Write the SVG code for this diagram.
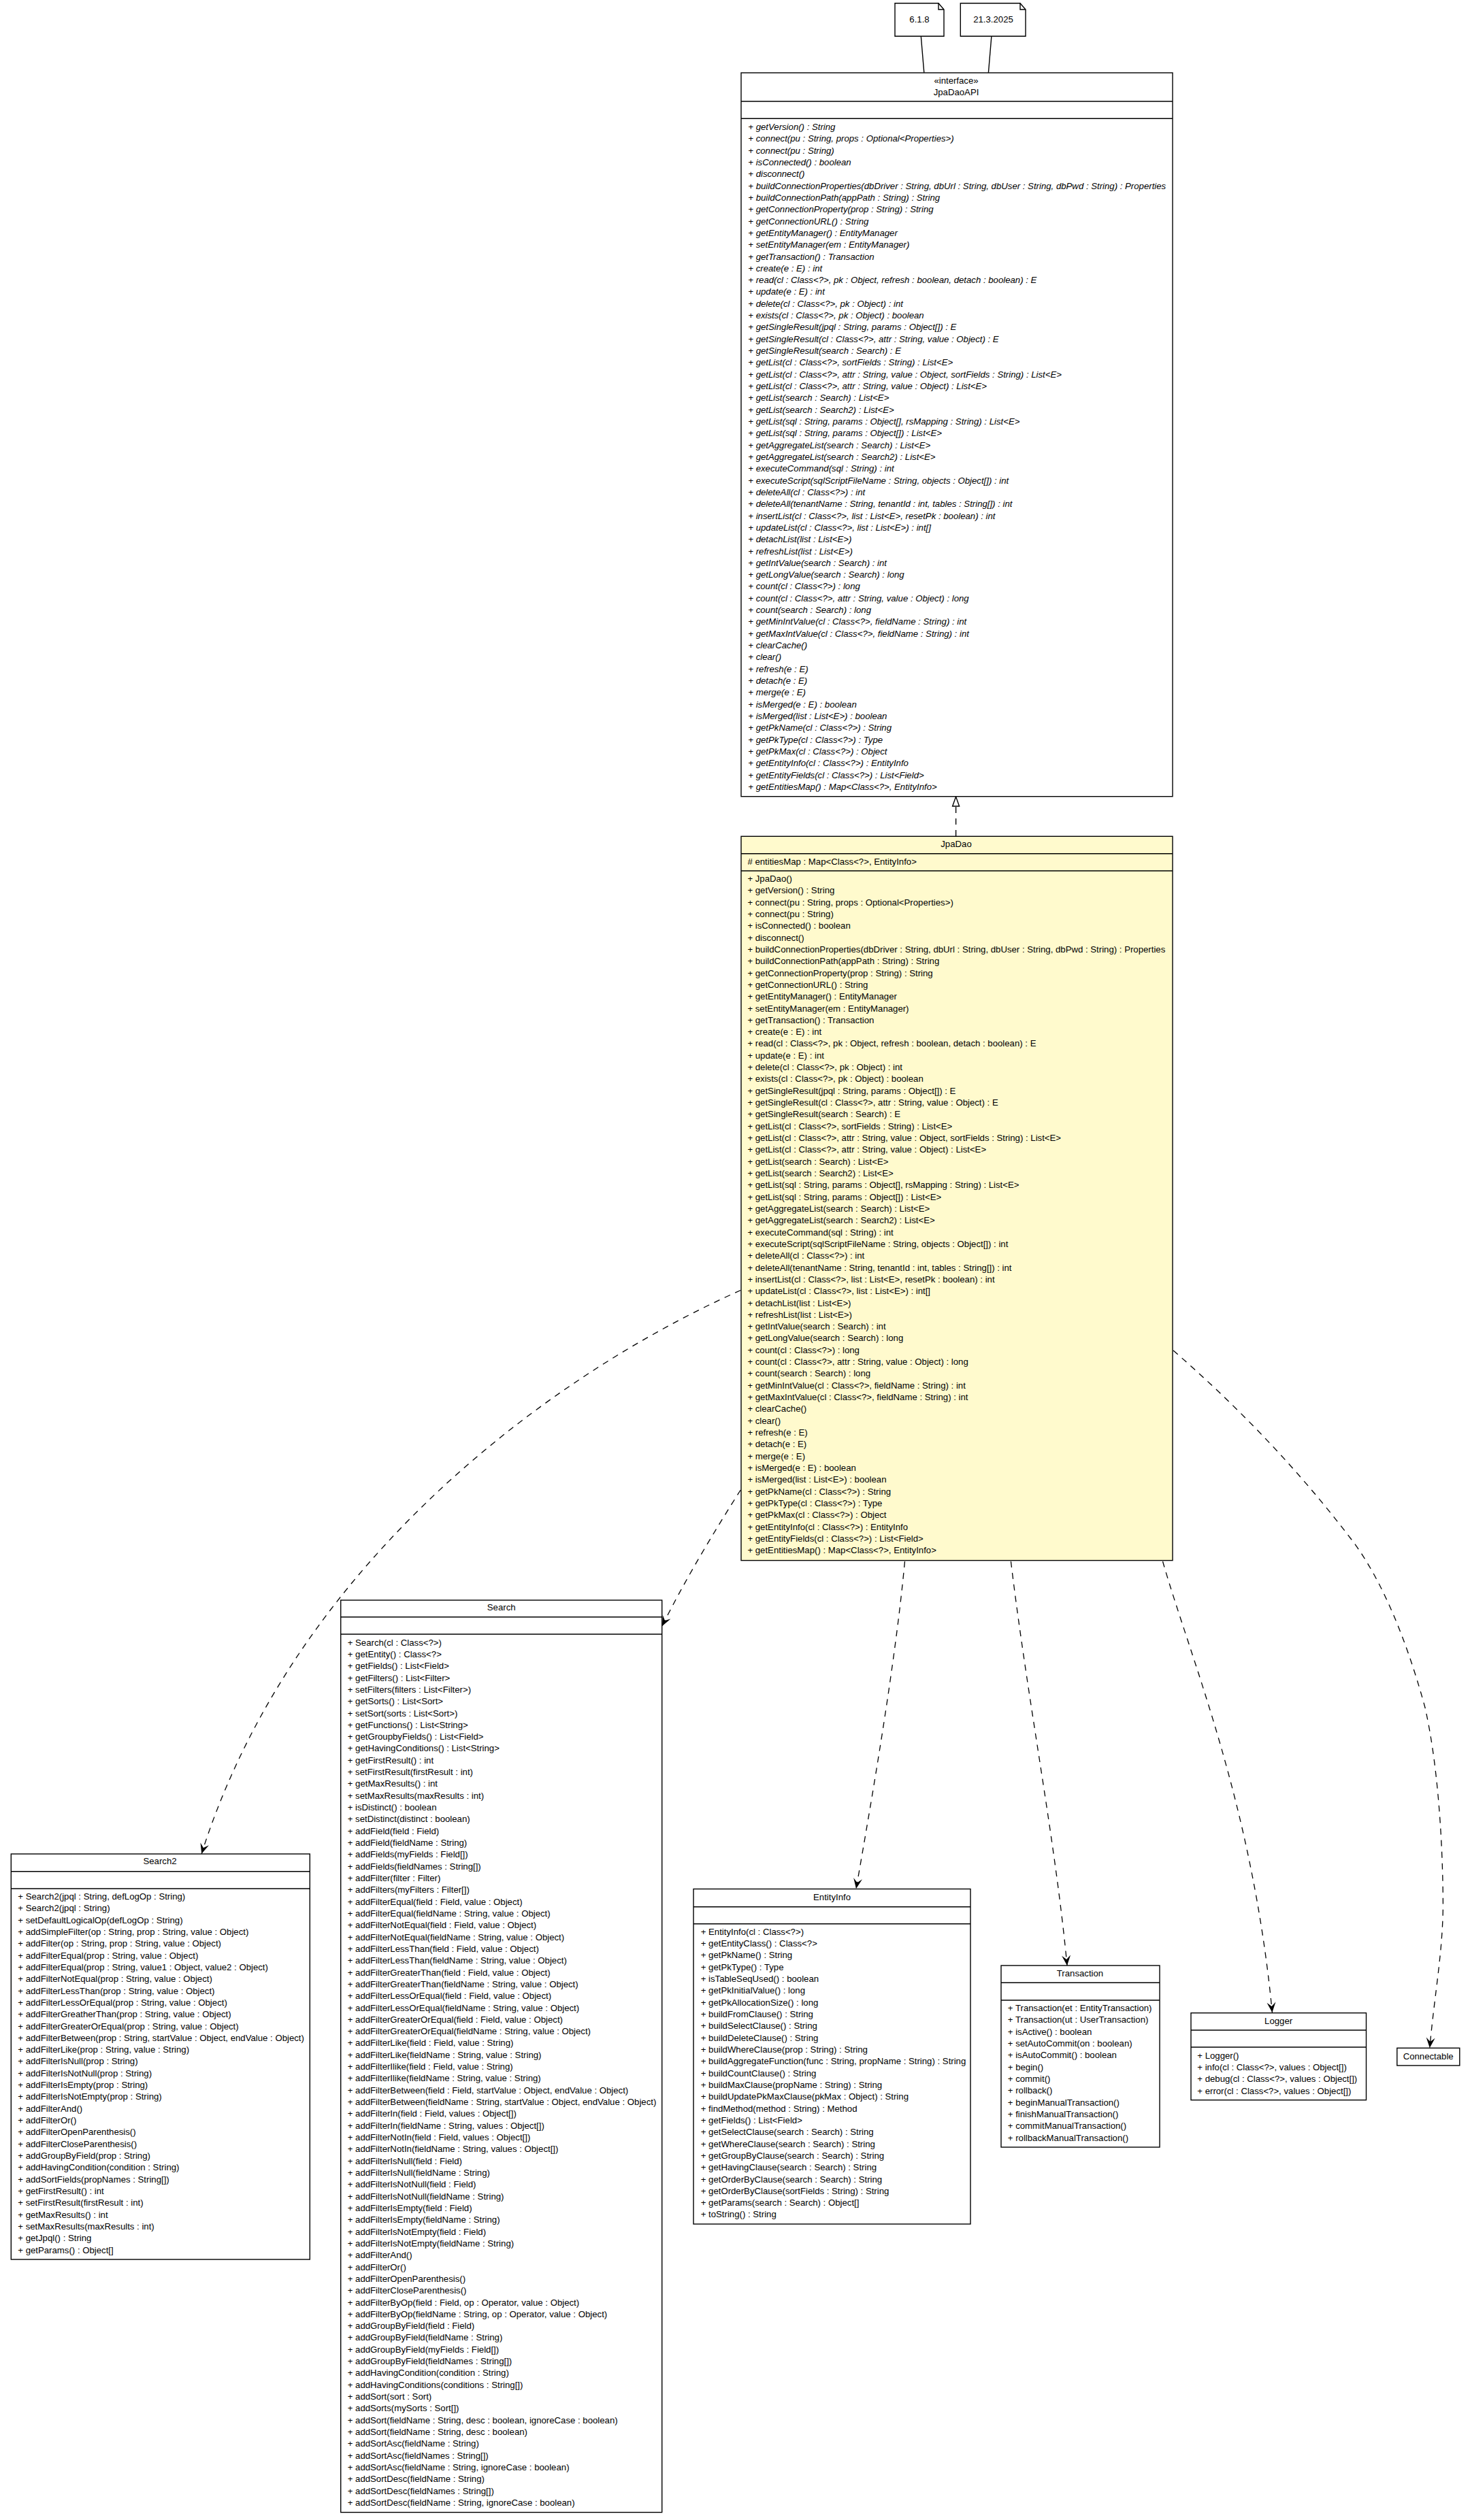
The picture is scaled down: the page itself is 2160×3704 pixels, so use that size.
<svg xmlns="http://www.w3.org/2000/svg" width="2160" height="3704" viewBox="0 0 2160 3704">
<style>
text{font-family:"Liberation Sans",Arial,Helvetica,sans-serif;font-size:13.2px;fill:#000}
.c{text-anchor:middle}
.i{font-style:italic}
.b{fill:#fff;stroke:#000;stroke-width:1.4}
.y{fill:#fffacd;stroke:#000;stroke-width:1.4}
.s{stroke:#000;stroke-width:1.4;fill:none}
.d{stroke:#000;stroke-width:1.3;fill:none;stroke-dasharray:9 8;marker-end:url(#vee)}
</style>
<defs>
<marker id="vee" markerUnits="userSpaceOnUse" markerWidth="20" markerHeight="18" refX="16" refY="8" orient="auto" overflow="visible"><path d="M16,8 L1,1.5 L7,8 L1,14.5 Z" fill="#000"/></marker>
</defs>
<rect width="2160" height="3704" fill="#fff"/>
<g id="connectors">
<path class="s" d="M1353.3,53.3 L1357.8,106.7"/>
<path class="s" d="M1456.9,53.3 L1452.4,106.7"/>
<path class="s" style="stroke-dasharray:9 8" d="M1404.6,1229 L1404.6,1185"/>
<path class="b" d="M1404.6,1171 L1399.6,1185 L1409.6,1185 Z"/>
<path class="d" d="M1088.3,1896.5 C781,2033.6 424.6,2318.8 296.2,2724.7"/>
<path class="d" d="M1088.3,2190 C1050,2250 1005,2325 973,2390"/>
<path class="d" d="M1329.5,2295 C1315,2450 1280,2650 1258,2776"/>
<path class="d" d="M1485.4,2295 C1510,2500 1550,2700 1568,2889"/>
<path class="d" d="M1708.5,2295 C1750,2440 1840,2650 1869.4,2958"/>
<path class="d" d="M1724,1985 C1810,2060 1900,2150 1987.5,2265 C2040,2335 2075,2440 2094,2510 C2112,2590 2120,2700 2120.4,2800 C2120,2870 2108,2930 2100.8,3010"/>
</g>
<g id="note-version">
<path class="b" d="M1315,4.7 H1379 L1387,14 V53.3 H1315 Z"/>
<path class="s" d="M1379,4.7 V14 H1387"/>
<text class="c" x="1351" y="33">6.1.8</text>
</g>
<g id="note-date">
<path class="b" d="M1411.3,4.7 H1499 L1507,14 V53.3 H1411.3 Z"/>
<path class="s" d="M1499,4.7 V14 H1507"/>
<text class="c" x="1459.5" y="33">21.3.2025</text>
</g>
<g id="JpaDaoAPI">
<rect class="b" x="1089" y="107" width="634" height="1063.7"/>
<path class="s" d="M1089,149 H1723 M1089,174.3 H1723"/>
<text class="c" x="1405" y="123.3">«interface»</text>
<text class="c" x="1405" y="140.3">JpaDaoAPI</text>
<text class="i"><tspan x="1099.3" y="191">+ getVersion() : String</tspan>
<tspan x="1099.3" dy="17.32">+ connect(pu : String, props : Optional&lt;Properties&gt;)</tspan>
<tspan x="1099.3" dy="17.32">+ connect(pu : String)</tspan>
<tspan x="1099.3" dy="17.32">+ isConnected() : boolean</tspan>
<tspan x="1099.3" dy="17.32">+ disconnect()</tspan>
<tspan x="1099.3" dy="17.32">+ buildConnectionProperties(dbDriver : String, dbUrl : String, dbUser : String, dbPwd : String) : Properties</tspan>
<tspan x="1099.3" dy="17.32">+ buildConnectionPath(appPath : String) : String</tspan>
<tspan x="1099.3" dy="17.32">+ getConnectionProperty(prop : String) : String</tspan>
<tspan x="1099.3" dy="17.32">+ getConnectionURL() : String</tspan>
<tspan x="1099.3" dy="17.32">+ getEntityManager() : EntityManager</tspan>
<tspan x="1099.3" dy="17.32">+ setEntityManager(em : EntityManager)</tspan>
<tspan x="1099.3" dy="17.32">+ getTransaction() : Transaction</tspan>
<tspan x="1099.3" dy="17.32">+ create(e : E) : int</tspan>
<tspan x="1099.3" dy="17.32">+ read(cl : Class&lt;?&gt;, pk : Object, refresh : boolean, detach : boolean) : E</tspan>
<tspan x="1099.3" dy="17.32">+ update(e : E) : int</tspan>
<tspan x="1099.3" dy="17.32">+ delete(cl : Class&lt;?&gt;, pk : Object) : int</tspan>
<tspan x="1099.3" dy="17.32">+ exists(cl : Class&lt;?&gt;, pk : Object) : boolean</tspan>
<tspan x="1099.3" dy="17.32">+ getSingleResult(jpql : String, params : Object[]) : E</tspan>
<tspan x="1099.3" dy="17.32">+ getSingleResult(cl : Class&lt;?&gt;, attr : String, value : Object) : E</tspan>
<tspan x="1099.3" dy="17.32">+ getSingleResult(search : Search) : E</tspan>
<tspan x="1099.3" dy="17.32">+ getList(cl : Class&lt;?&gt;, sortFields : String) : List&lt;E&gt;</tspan>
<tspan x="1099.3" dy="17.32">+ getList(cl : Class&lt;?&gt;, attr : String, value : Object, sortFields : String) : List&lt;E&gt;</tspan>
<tspan x="1099.3" dy="17.32">+ getList(cl : Class&lt;?&gt;, attr : String, value : Object) : List&lt;E&gt;</tspan>
<tspan x="1099.3" dy="17.32">+ getList(search : Search) : List&lt;E&gt;</tspan>
<tspan x="1099.3" dy="17.32">+ getList(search : Search2) : List&lt;E&gt;</tspan>
<tspan x="1099.3" dy="17.32">+ getList(sql : String, params : Object[], rsMapping : String) : List&lt;E&gt;</tspan>
<tspan x="1099.3" dy="17.32">+ getList(sql : String, params : Object[]) : List&lt;E&gt;</tspan>
<tspan x="1099.3" dy="17.32">+ getAggregateList(search : Search) : List&lt;E&gt;</tspan>
<tspan x="1099.3" dy="17.32">+ getAggregateList(search : Search2) : List&lt;E&gt;</tspan>
<tspan x="1099.3" dy="17.32">+ executeCommand(sql : String) : int</tspan>
<tspan x="1099.3" dy="17.32">+ executeScript(sqlScriptFileName : String, objects : Object[]) : int</tspan>
<tspan x="1099.3" dy="17.32">+ deleteAll(cl : Class&lt;?&gt;) : int</tspan>
<tspan x="1099.3" dy="17.32">+ deleteAll(tenantName : String, tenantId : int, tables : String[]) : int</tspan>
<tspan x="1099.3" dy="17.32">+ insertList(cl : Class&lt;?&gt;, list : List&lt;E&gt;, resetPk : boolean) : int</tspan>
<tspan x="1099.3" dy="17.32">+ updateList(cl : Class&lt;?&gt;, list : List&lt;E&gt;) : int[]</tspan>
<tspan x="1099.3" dy="17.32">+ detachList(list : List&lt;E&gt;)</tspan>
<tspan x="1099.3" dy="17.32">+ refreshList(list : List&lt;E&gt;)</tspan>
<tspan x="1099.3" dy="17.32">+ getIntValue(search : Search) : int</tspan>
<tspan x="1099.3" dy="17.32">+ getLongValue(search : Search) : long</tspan>
<tspan x="1099.3" dy="17.32">+ count(cl : Class&lt;?&gt;) : long</tspan>
<tspan x="1099.3" dy="17.32">+ count(cl : Class&lt;?&gt;, attr : String, value : Object) : long</tspan>
<tspan x="1099.3" dy="17.32">+ count(search : Search) : long</tspan>
<tspan x="1099.3" dy="17.32">+ getMinIntValue(cl : Class&lt;?&gt;, fieldName : String) : int</tspan>
<tspan x="1099.3" dy="17.32">+ getMaxIntValue(cl : Class&lt;?&gt;, fieldName : String) : int</tspan>
<tspan x="1099.3" dy="17.32">+ clearCache()</tspan>
<tspan x="1099.3" dy="17.32">+ clear()</tspan>
<tspan x="1099.3" dy="17.32">+ refresh(e : E)</tspan>
<tspan x="1099.3" dy="17.32">+ detach(e : E)</tspan>
<tspan x="1099.3" dy="17.32">+ merge(e : E)</tspan>
<tspan x="1099.3" dy="17.32">+ isMerged(e : E) : boolean</tspan>
<tspan x="1099.3" dy="17.32">+ isMerged(list : List&lt;E&gt;) : boolean</tspan>
<tspan x="1099.3" dy="17.32">+ getPkName(cl : Class&lt;?&gt;) : String</tspan>
<tspan x="1099.3" dy="17.32">+ getPkType(cl : Class&lt;?&gt;) : Type</tspan>
<tspan x="1099.3" dy="17.32">+ getPkMax(cl : Class&lt;?&gt;) : Object</tspan>
<tspan x="1099.3" dy="17.32">+ getEntityInfo(cl : Class&lt;?&gt;) : EntityInfo</tspan>
<tspan x="1099.3" dy="17.32">+ getEntityFields(cl : Class&lt;?&gt;) : List&lt;Field&gt;</tspan>
<tspan x="1099.3" dy="17.32">+ getEntitiesMap() : Map&lt;Class&lt;?&gt;, EntityInfo&gt;</tspan></text>
</g>
<g id="JpaDao">
<rect class="y" x="1089" y="1229.3" width="634" height="1064.3"/>
<path class="s" d="M1089,1254.7 H1723 M1089,1280 H1723"/>
<text class="c" x="1405" y="1245">JpaDao</text>
<text x="1098.4" y="1271"># entitiesMap : Map&lt;Class&lt;?&gt;, EntityInfo&gt;</text>
<text><tspan x="1098.4" y="1296">+ JpaDao()</tspan>
<tspan x="1098.4" dy="17.32">+ getVersion() : String</tspan>
<tspan x="1098.4" dy="17.32">+ connect(pu : String, props : Optional&lt;Properties&gt;)</tspan>
<tspan x="1098.4" dy="17.32">+ connect(pu : String)</tspan>
<tspan x="1098.4" dy="17.32">+ isConnected() : boolean</tspan>
<tspan x="1098.4" dy="17.32">+ disconnect()</tspan>
<tspan x="1098.4" dy="17.32">+ buildConnectionProperties(dbDriver : String, dbUrl : String, dbUser : String, dbPwd : String) : Properties</tspan>
<tspan x="1098.4" dy="17.32">+ buildConnectionPath(appPath : String) : String</tspan>
<tspan x="1098.4" dy="17.32">+ getConnectionProperty(prop : String) : String</tspan>
<tspan x="1098.4" dy="17.32">+ getConnectionURL() : String</tspan>
<tspan x="1098.4" dy="17.32">+ getEntityManager() : EntityManager</tspan>
<tspan x="1098.4" dy="17.32">+ setEntityManager(em : EntityManager)</tspan>
<tspan x="1098.4" dy="17.32">+ getTransaction() : Transaction</tspan>
<tspan x="1098.4" dy="17.32">+ create(e : E) : int</tspan>
<tspan x="1098.4" dy="17.32">+ read(cl : Class&lt;?&gt;, pk : Object, refresh : boolean, detach : boolean) : E</tspan>
<tspan x="1098.4" dy="17.32">+ update(e : E) : int</tspan>
<tspan x="1098.4" dy="17.32">+ delete(cl : Class&lt;?&gt;, pk : Object) : int</tspan>
<tspan x="1098.4" dy="17.32">+ exists(cl : Class&lt;?&gt;, pk : Object) : boolean</tspan>
<tspan x="1098.4" dy="17.32">+ getSingleResult(jpql : String, params : Object[]) : E</tspan>
<tspan x="1098.4" dy="17.32">+ getSingleResult(cl : Class&lt;?&gt;, attr : String, value : Object) : E</tspan>
<tspan x="1098.4" dy="17.32">+ getSingleResult(search : Search) : E</tspan>
<tspan x="1098.4" dy="17.32">+ getList(cl : Class&lt;?&gt;, sortFields : String) : List&lt;E&gt;</tspan>
<tspan x="1098.4" dy="17.32">+ getList(cl : Class&lt;?&gt;, attr : String, value : Object, sortFields : String) : List&lt;E&gt;</tspan>
<tspan x="1098.4" dy="17.32">+ getList(cl : Class&lt;?&gt;, attr : String, value : Object) : List&lt;E&gt;</tspan>
<tspan x="1098.4" dy="17.32">+ getList(search : Search) : List&lt;E&gt;</tspan>
<tspan x="1098.4" dy="17.32">+ getList(search : Search2) : List&lt;E&gt;</tspan>
<tspan x="1098.4" dy="17.32">+ getList(sql : String, params : Object[], rsMapping : String) : List&lt;E&gt;</tspan>
<tspan x="1098.4" dy="17.32">+ getList(sql : String, params : Object[]) : List&lt;E&gt;</tspan>
<tspan x="1098.4" dy="17.32">+ getAggregateList(search : Search) : List&lt;E&gt;</tspan>
<tspan x="1098.4" dy="17.32">+ getAggregateList(search : Search2) : List&lt;E&gt;</tspan>
<tspan x="1098.4" dy="17.32">+ executeCommand(sql : String) : int</tspan>
<tspan x="1098.4" dy="17.32">+ executeScript(sqlScriptFileName : String, objects : Object[]) : int</tspan>
<tspan x="1098.4" dy="17.32">+ deleteAll(cl : Class&lt;?&gt;) : int</tspan>
<tspan x="1098.4" dy="17.32">+ deleteAll(tenantName : String, tenantId : int, tables : String[]) : int</tspan>
<tspan x="1098.4" dy="17.32">+ insertList(cl : Class&lt;?&gt;, list : List&lt;E&gt;, resetPk : boolean) : int</tspan>
<tspan x="1098.4" dy="17.32">+ updateList(cl : Class&lt;?&gt;, list : List&lt;E&gt;) : int[]</tspan>
<tspan x="1098.4" dy="17.32">+ detachList(list : List&lt;E&gt;)</tspan>
<tspan x="1098.4" dy="17.32">+ refreshList(list : List&lt;E&gt;)</tspan>
<tspan x="1098.4" dy="17.32">+ getIntValue(search : Search) : int</tspan>
<tspan x="1098.4" dy="17.32">+ getLongValue(search : Search) : long</tspan>
<tspan x="1098.4" dy="17.32">+ count(cl : Class&lt;?&gt;) : long</tspan>
<tspan x="1098.4" dy="17.32">+ count(cl : Class&lt;?&gt;, attr : String, value : Object) : long</tspan>
<tspan x="1098.4" dy="17.32">+ count(search : Search) : long</tspan>
<tspan x="1098.4" dy="17.32">+ getMinIntValue(cl : Class&lt;?&gt;, fieldName : String) : int</tspan>
<tspan x="1098.4" dy="17.32">+ getMaxIntValue(cl : Class&lt;?&gt;, fieldName : String) : int</tspan>
<tspan x="1098.4" dy="17.32">+ clearCache()</tspan>
<tspan x="1098.4" dy="17.32">+ clear()</tspan>
<tspan x="1098.4" dy="17.32">+ refresh(e : E)</tspan>
<tspan x="1098.4" dy="17.32">+ detach(e : E)</tspan>
<tspan x="1098.4" dy="17.32">+ merge(e : E)</tspan>
<tspan x="1098.4" dy="17.32">+ isMerged(e : E) : boolean</tspan>
<tspan x="1098.4" dy="17.32">+ isMerged(list : List&lt;E&gt;) : boolean</tspan>
<tspan x="1098.4" dy="17.32">+ getPkName(cl : Class&lt;?&gt;) : String</tspan>
<tspan x="1098.4" dy="17.32">+ getPkType(cl : Class&lt;?&gt;) : Type</tspan>
<tspan x="1098.4" dy="17.32">+ getPkMax(cl : Class&lt;?&gt;) : Object</tspan>
<tspan x="1098.4" dy="17.32">+ getEntityInfo(cl : Class&lt;?&gt;) : EntityInfo</tspan>
<tspan x="1098.4" dy="17.32">+ getEntityFields(cl : Class&lt;?&gt;) : List&lt;Field&gt;</tspan>
<tspan x="1098.4" dy="17.32">+ getEntitiesMap() : Map&lt;Class&lt;?&gt;, EntityInfo&gt;</tspan></text>
</g>
<g id="Search">
<rect class="b" x="500.7" y="2352" width="472" height="1340.7"/>
<path class="s" d="M500.7,2376.7 H972.7 M500.7,2402 H972.7"/>
<text class="c" x="736.7" y="2367.3">Search</text>
<text><tspan x="510.7" y="2418.6">+ Search(cl : Class&lt;?&gt;)</tspan>
<tspan x="510.7" dy="17.32">+ getEntity() : Class&lt;?&gt;</tspan>
<tspan x="510.7" dy="17.32">+ getFields() : List&lt;Field&gt;</tspan>
<tspan x="510.7" dy="17.32">+ getFilters() : List&lt;Filter&gt;</tspan>
<tspan x="510.7" dy="17.32">+ setFilters(filters : List&lt;Filter&gt;)</tspan>
<tspan x="510.7" dy="17.32">+ getSorts() : List&lt;Sort&gt;</tspan>
<tspan x="510.7" dy="17.32">+ setSort(sorts : List&lt;Sort&gt;)</tspan>
<tspan x="510.7" dy="17.32">+ getFunctions() : List&lt;String&gt;</tspan>
<tspan x="510.7" dy="17.32">+ getGroupbyFields() : List&lt;Field&gt;</tspan>
<tspan x="510.7" dy="17.32">+ getHavingConditions() : List&lt;String&gt;</tspan>
<tspan x="510.7" dy="17.32">+ getFirstResult() : int</tspan>
<tspan x="510.7" dy="17.32">+ setFirstResult(firstResult : int)</tspan>
<tspan x="510.7" dy="17.32">+ getMaxResults() : int</tspan>
<tspan x="510.7" dy="17.32">+ setMaxResults(maxResults : int)</tspan>
<tspan x="510.7" dy="17.32">+ isDistinct() : boolean</tspan>
<tspan x="510.7" dy="17.32">+ setDistinct(distinct : boolean)</tspan>
<tspan x="510.7" dy="17.32">+ addField(field : Field)</tspan>
<tspan x="510.7" dy="17.32">+ addField(fieldName : String)</tspan>
<tspan x="510.7" dy="17.32">+ addFields(myFields : Field[])</tspan>
<tspan x="510.7" dy="17.32">+ addFields(fieldNames : String[])</tspan>
<tspan x="510.7" dy="17.32">+ addFilter(filter : Filter)</tspan>
<tspan x="510.7" dy="17.32">+ addFilters(myFilters : Filter[])</tspan>
<tspan x="510.7" dy="17.32">+ addFilterEqual(field : Field, value : Object)</tspan>
<tspan x="510.7" dy="17.32">+ addFilterEqual(fieldName : String, value : Object)</tspan>
<tspan x="510.7" dy="17.32">+ addFilterNotEqual(field : Field, value : Object)</tspan>
<tspan x="510.7" dy="17.32">+ addFilterNotEqual(fieldName : String, value : Object)</tspan>
<tspan x="510.7" dy="17.32">+ addFilterLessThan(field : Field, value : Object)</tspan>
<tspan x="510.7" dy="17.32">+ addFilterLessThan(fieldName : String, value : Object)</tspan>
<tspan x="510.7" dy="17.32">+ addFilterGreaterThan(field : Field, value : Object)</tspan>
<tspan x="510.7" dy="17.32">+ addFilterGreaterThan(fieldName : String, value : Object)</tspan>
<tspan x="510.7" dy="17.32">+ addFilterLessOrEqual(field : Field, value : Object)</tspan>
<tspan x="510.7" dy="17.32">+ addFilterLessOrEqual(fieldName : String, value : Object)</tspan>
<tspan x="510.7" dy="17.32">+ addFilterGreaterOrEqual(field : Field, value : Object)</tspan>
<tspan x="510.7" dy="17.32">+ addFilterGreaterOrEqual(fieldName : String, value : Object)</tspan>
<tspan x="510.7" dy="17.32">+ addFilterLike(field : Field, value : String)</tspan>
<tspan x="510.7" dy="17.32">+ addFilterLike(fieldName : String, value : String)</tspan>
<tspan x="510.7" dy="17.32">+ addFilterIlike(field : Field, value : String)</tspan>
<tspan x="510.7" dy="17.32">+ addFilterIlike(fieldName : String, value : String)</tspan>
<tspan x="510.7" dy="17.32">+ addFilterBetween(field : Field, startValue : Object, endValue : Object)</tspan>
<tspan x="510.7" dy="17.32">+ addFilterBetween(fieldName : String, startValue : Object, endValue : Object)</tspan>
<tspan x="510.7" dy="17.32">+ addFilterIn(field : Field, values : Object[])</tspan>
<tspan x="510.7" dy="17.32">+ addFilterIn(fieldName : String, values : Object[])</tspan>
<tspan x="510.7" dy="17.32">+ addFilterNotIn(field : Field, values : Object[])</tspan>
<tspan x="510.7" dy="17.32">+ addFilterNotIn(fieldName : String, values : Object[])</tspan>
<tspan x="510.7" dy="17.32">+ addFilterIsNull(field : Field)</tspan>
<tspan x="510.7" dy="17.32">+ addFilterIsNull(fieldName : String)</tspan>
<tspan x="510.7" dy="17.32">+ addFilterIsNotNull(field : Field)</tspan>
<tspan x="510.7" dy="17.32">+ addFilterIsNotNull(fieldName : String)</tspan>
<tspan x="510.7" dy="17.32">+ addFilterIsEmpty(field : Field)</tspan>
<tspan x="510.7" dy="17.32">+ addFilterIsEmpty(fieldName : String)</tspan>
<tspan x="510.7" dy="17.32">+ addFilterIsNotEmpty(field : Field)</tspan>
<tspan x="510.7" dy="17.32">+ addFilterIsNotEmpty(fieldName : String)</tspan>
<tspan x="510.7" dy="17.32">+ addFilterAnd()</tspan>
<tspan x="510.7" dy="17.32">+ addFilterOr()</tspan>
<tspan x="510.7" dy="17.32">+ addFilterOpenParenthesis()</tspan>
<tspan x="510.7" dy="17.32">+ addFilterCloseParenthesis()</tspan>
<tspan x="510.7" dy="17.32">+ addFilterByOp(field : Field, op : Operator, value : Object)</tspan>
<tspan x="510.7" dy="17.32">+ addFilterByOp(fieldName : String, op : Operator, value : Object)</tspan>
<tspan x="510.7" dy="17.32">+ addGroupByField(field : Field)</tspan>
<tspan x="510.7" dy="17.32">+ addGroupByField(fieldName : String)</tspan>
<tspan x="510.7" dy="17.32">+ addGroupByField(myFields : Field[])</tspan>
<tspan x="510.7" dy="17.32">+ addGroupByField(fieldNames : String[])</tspan>
<tspan x="510.7" dy="17.32">+ addHavingCondition(condition : String)</tspan>
<tspan x="510.7" dy="17.32">+ addHavingConditions(conditions : String[])</tspan>
<tspan x="510.7" dy="17.32">+ addSort(sort : Sort)</tspan>
<tspan x="510.7" dy="17.32">+ addSorts(mySorts : Sort[])</tspan>
<tspan x="510.7" dy="17.32">+ addSort(fieldName : String, desc : boolean, ignoreCase : boolean)</tspan>
<tspan x="510.7" dy="17.32">+ addSort(fieldName : String, desc : boolean)</tspan>
<tspan x="510.7" dy="17.32">+ addSortAsc(fieldName : String)</tspan>
<tspan x="510.7" dy="17.32">+ addSortAsc(fieldNames : String[])</tspan>
<tspan x="510.7" dy="17.32">+ addSortAsc(fieldName : String, ignoreCase : boolean)</tspan>
<tspan x="510.7" dy="17.32">+ addSortDesc(fieldName : String)</tspan>
<tspan x="510.7" dy="17.32">+ addSortDesc(fieldNames : String[])</tspan>
<tspan x="510.7" dy="17.32">+ addSortDesc(fieldName : String, ignoreCase : boolean)</tspan></text>
</g>
<g id="Search2">
<rect class="b" x="16.3" y="2725" width="439" height="596"/>
<path class="s" d="M16.3,2750.7 H455.3 M16.3,2776 H455.3"/>
<text class="c" x="235" y="2740.3">Search2</text>
<text><tspan x="26.3" y="2792">+ Search2(jpql : String, defLogOp : String)</tspan>
<tspan x="26.3" dy="17.32">+ Search2(jpql : String)</tspan>
<tspan x="26.3" dy="17.32">+ setDefaultLogicalOp(defLogOp : String)</tspan>
<tspan x="26.3" dy="17.32">+ addSimpleFilter(op : String, prop : String, value : Object)</tspan>
<tspan x="26.3" dy="17.32">+ addFilter(op : String, prop : String, value : Object)</tspan>
<tspan x="26.3" dy="17.32">+ addFilterEqual(prop : String, value : Object)</tspan>
<tspan x="26.3" dy="17.32">+ addFilterEqual(prop : String, value1 : Object, value2 : Object)</tspan>
<tspan x="26.3" dy="17.32">+ addFilterNotEqual(prop : String, value : Object)</tspan>
<tspan x="26.3" dy="17.32">+ addFilterLessThan(prop : String, value : Object)</tspan>
<tspan x="26.3" dy="17.32">+ addFilterLessOrEqual(prop : String, value : Object)</tspan>
<tspan x="26.3" dy="17.32">+ addFilterGreatherThan(prop : String, value : Object)</tspan>
<tspan x="26.3" dy="17.32">+ addFilterGreaterOrEqual(prop : String, value : Object)</tspan>
<tspan x="26.3" dy="17.32">+ addFilterBetween(prop : String, startValue : Object, endValue : Object)</tspan>
<tspan x="26.3" dy="17.32">+ addFilterLike(prop : String, value : String)</tspan>
<tspan x="26.3" dy="17.32">+ addFilterIsNull(prop : String)</tspan>
<tspan x="26.3" dy="17.32">+ addFilterIsNotNull(prop : String)</tspan>
<tspan x="26.3" dy="17.32">+ addFilterIsEmpty(prop : String)</tspan>
<tspan x="26.3" dy="17.32">+ addFilterIsNotEmpty(prop : String)</tspan>
<tspan x="26.3" dy="17.32">+ addFilterAnd()</tspan>
<tspan x="26.3" dy="17.32">+ addFilterOr()</tspan>
<tspan x="26.3" dy="17.32">+ addFilterOpenParenthesis()</tspan>
<tspan x="26.3" dy="17.32">+ addFilterCloseParenthesis()</tspan>
<tspan x="26.3" dy="17.32">+ addGroupByField(prop : String)</tspan>
<tspan x="26.3" dy="17.32">+ addHavingCondition(condition : String)</tspan>
<tspan x="26.3" dy="17.32">+ addSortFields(propNames : String[])</tspan>
<tspan x="26.3" dy="17.32">+ getFirstResult() : int</tspan>
<tspan x="26.3" dy="17.32">+ setFirstResult(firstResult : int)</tspan>
<tspan x="26.3" dy="17.32">+ getMaxResults() : int</tspan>
<tspan x="26.3" dy="17.32">+ setMaxResults(maxResults : int)</tspan>
<tspan x="26.3" dy="17.32">+ getJpql() : String</tspan>
<tspan x="26.3" dy="17.32">+ getParams() : Object[]</tspan></text>
</g>
<g id="EntityInfo">
<rect class="b" x="1019" y="2776.5" width="407" height="492.5"/>
<path class="s" d="M1019,2802.7 H1426 M1019,2827.8 H1426"/>
<text class="c" x="1222.5" y="2792.5">EntityInfo</text>
<text><tspan x="1029.7" y="2843.8">+ EntityInfo(cl : Class&lt;?&gt;)</tspan>
<tspan x="1029.7" dy="17.32">+ getEntityClass() : Class&lt;?&gt;</tspan>
<tspan x="1029.7" dy="17.32">+ getPkName() : String</tspan>
<tspan x="1029.7" dy="17.32">+ getPkType() : Type</tspan>
<tspan x="1029.7" dy="17.32">+ isTableSeqUsed() : boolean</tspan>
<tspan x="1029.7" dy="17.32">+ getPkInitialValue() : long</tspan>
<tspan x="1029.7" dy="17.32">+ getPkAllocationSize() : long</tspan>
<tspan x="1029.7" dy="17.32">+ buildFromClause() : String</tspan>
<tspan x="1029.7" dy="17.32">+ buildSelectClause() : String</tspan>
<tspan x="1029.7" dy="17.32">+ buildDeleteClause() : String</tspan>
<tspan x="1029.7" dy="17.32">+ buildWhereClause(prop : String) : String</tspan>
<tspan x="1029.7" dy="17.32">+ buildAggregateFunction(func : String, propName : String) : String</tspan>
<tspan x="1029.7" dy="17.32">+ buildCountClause() : String</tspan>
<tspan x="1029.7" dy="17.32">+ buildMaxClause(propName : String) : String</tspan>
<tspan x="1029.7" dy="17.32">+ buildUpdatePkMaxClause(pkMax : Object) : String</tspan>
<tspan x="1029.7" dy="17.32">+ findMethod(method : String) : Method</tspan>
<tspan x="1029.7" dy="17.32">+ getFields() : List&lt;Field&gt;</tspan>
<tspan x="1029.7" dy="17.32">+ getSelectClause(search : Search) : String</tspan>
<tspan x="1029.7" dy="17.32">+ getWhereClause(search : Search) : String</tspan>
<tspan x="1029.7" dy="17.32">+ getGroupByClause(search : Search) : String</tspan>
<tspan x="1029.7" dy="17.32">+ getHavingClause(search : Search) : String</tspan>
<tspan x="1029.7" dy="17.32">+ getOrderByClause(search : Search) : String</tspan>
<tspan x="1029.7" dy="17.32">+ getOrderByClause(sortFields : String) : String</tspan>
<tspan x="1029.7" dy="17.32">+ getParams(search : Search) : Object[]</tspan>
<tspan x="1029.7" dy="17.32">+ toString() : String</tspan></text>
</g>
<g id="Transaction">
<rect class="b" x="1471" y="2889" width="233" height="267"/>
<path class="s" d="M1471,2914.3 H1704 M1471,2940 H1704"/>
<text class="c" x="1587" y="2905">Transaction</text>
<text><tspan x="1480.8" y="2956">+ Transaction(et : EntityTransaction)</tspan>
<tspan x="1480.8" dy="17.32">+ Transaction(ut : UserTransaction)</tspan>
<tspan x="1480.8" dy="17.32">+ isActive() : boolean</tspan>
<tspan x="1480.8" dy="17.32">+ setAutoCommit(on : boolean)</tspan>
<tspan x="1480.8" dy="17.32">+ isAutoCommit() : boolean</tspan>
<tspan x="1480.8" dy="17.32">+ begin()</tspan>
<tspan x="1480.8" dy="17.32">+ commit()</tspan>
<tspan x="1480.8" dy="17.32">+ rollback()</tspan>
<tspan x="1480.8" dy="17.32">+ beginManualTransaction()</tspan>
<tspan x="1480.8" dy="17.32">+ finishManualTransaction()</tspan>
<tspan x="1480.8" dy="17.32">+ commitManualTransaction()</tspan>
<tspan x="1480.8" dy="17.32">+ rollbackManualTransaction()</tspan></text>
</g>
<g id="Logger">
<rect class="b" x="1750" y="2958.7" width="257.5" height="128"/>
<path class="s" d="M1750,2984 H2007.5 M1750,3009 H2007.5"/>
<text class="c" x="1878.6" y="2975">Logger</text>
<text><tspan x="1759.3" y="3025.6">+ Logger()</tspan>
<tspan x="1759.3" dy="17.32">+ info(cl : Class&lt;?&gt;, values : Object[])</tspan>
<tspan x="1759.3" dy="17.32">+ debug(cl : Class&lt;?&gt;, values : Object[])</tspan>
<tspan x="1759.3" dy="17.32">+ error(cl : Class&lt;?&gt;, values : Object[])</tspan></text>
</g>
<g id="Connectable">
<rect class="b" x="2052.8" y="3010.3" width="92" height="25.7"/>
<text class="c" x="2098.7" y="3027">Connectable</text>
</g>
</svg>
